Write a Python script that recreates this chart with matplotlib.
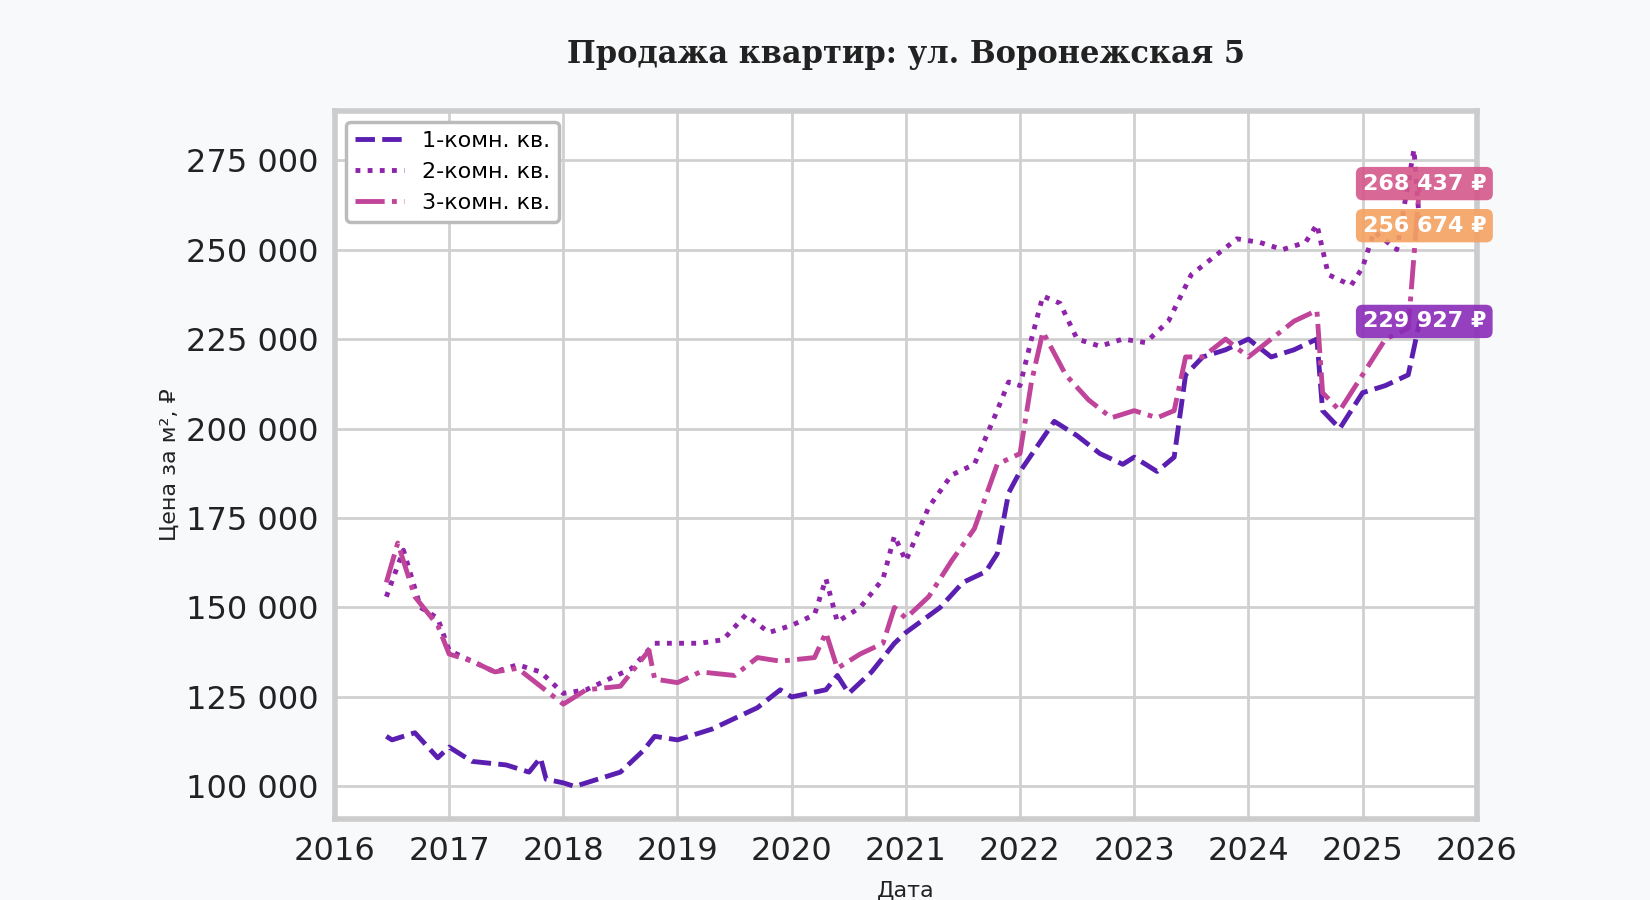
import matplotlib
matplotlib.use("Agg")
import matplotlib.pyplot as plt
from matplotlib.ticker import FuncFormatter

t1 = [2016.45,2016.5,2016.7,2016.9,2017.0,2017.2,2017.5,2017.7,2017.8,2017.85,2018.0,2018.1,2018.3,2018.5,2018.7,2018.8,2019.0,2019.3,2019.5,2019.7,2019.9,2020.0,2020.3,2020.4,2020.5,2020.7,2020.9,2021.0,2021.3,2021.5,2021.7,2021.8,2021.9,2022.0,2022.15,2022.3,2022.5,2022.7,2022.9,2023.0,2023.2,2023.35,2023.45,2023.6,2023.8,2024.0,2024.2,2024.4,2024.6,2024.65,2024.8,2024.9,2025.0,2025.2,2025.4,2025.5]
v1 = [114000,113000,115000,108000,111000,107000,106000,104000,108000,102000,101000,100000,102000,104000,110000,114000,113000,116000,119000,122000,127000,125000,127000,131000,126000,132000,140000,143000,150000,157000,160000,165000,182000,188000,195000,202000,198000,193000,190000,192000,188000,192000,215000,220000,222000,225000,220000,222000,225000,205000,200000,205000,210000,212000,215000,229927]

t2 = [2016.45,2016.6,2016.75,2016.9,2017.0,2017.2,2017.4,2017.6,2017.8,2018.0,2018.2,2018.4,2018.6,2018.8,2019.0,2019.2,2019.4,2019.6,2019.8,2020.0,2020.2,2020.3,2020.4,2020.6,2020.8,2020.9,2021.0,2021.2,2021.4,2021.6,2021.8,2021.9,2022.0,2022.1,2022.2,2022.35,2022.5,2022.7,2022.9,2023.1,2023.3,2023.5,2023.7,2023.9,2024.1,2024.3,2024.5,2024.6,2024.7,2024.9,2025.0,2025.1,2025.3,2025.45,2025.5]
v2 = [153000,166000,150000,147000,138000,135000,132000,134000,132000,126000,127000,130000,133000,140000,140000,140000,141000,148000,143000,145000,148000,158000,146000,150000,158000,170000,163000,178000,187000,190000,205000,213000,212000,225000,237000,235000,225000,223000,225000,224000,230000,243000,248000,253000,252000,250000,252000,257000,243000,240000,245000,255000,250000,278000,256674]

t3 = [2016.45,2016.55,2016.7,2016.9,2017.0,2017.2,2017.4,2017.6,2017.8,2018.0,2018.2,2018.5,2018.75,2018.8,2019.0,2019.2,2019.5,2019.7,2019.9,2020.2,2020.3,2020.4,2020.6,2020.8,2020.9,2021.0,2021.2,2021.4,2021.6,2021.8,2022.0,2022.1,2022.2,2022.4,2022.6,2022.8,2023.0,2023.2,2023.35,2023.45,2023.6,2023.8,2024.0,2024.2,2024.4,2024.6,2024.65,2024.8,2025.0,2025.2,2025.4,2025.5]
v3 = [157000,168000,153000,145000,137000,135000,132000,133000,128000,123000,127000,128000,138000,130000,129000,132000,131000,136000,135000,136000,143000,133000,137000,140000,150000,147000,153000,163000,172000,190000,193000,213000,227000,215000,208000,203000,205000,203000,205000,220000,220000,225000,220000,225000,230000,233000,210000,205000,215000,225000,228000,268437]

labels = ["1-комн. кв.", "2-комн. кв.", "3-комн. кв."]
end_vals = [268437, 256674, 229927]
end_colors = ["#d4578a", "#f4a261", "#8a2cb8"]

fig = plt.figure(figsize=(16.5, 9), dpi=100, facecolor="#f8f9fb")
ax = fig.add_axes([0.203, 0.09, 0.692, 0.787])
ax.set_facecolor("white")
c1, c2, c3 = "#5a1fb0", "#8e24aa", "#c0449a"
ax.plot(t1, v1, color=c1, lw=3.5, ls=(0, (4, 1.5)), label=labels[0])
ax.plot(t2, v2, color=c2, lw=3.5, ls=(0, (1, 1.5)), label=labels[1])
ax.plot(t3, v3, color=c3, lw=3.5, ls=(0, (6, 1.5, 1, 1.5)), label=labels[2])
ax.set_xlim(2016, 2026)
ax.set_ylim(90900, 288800)
ax.set_xticks(range(2016, 2027))
ax.set_yticks(range(100000, 275001, 25000))
ax.yaxis.set_major_formatter(FuncFormatter(lambda v, p: f"{int(v):,}".replace(",", " ")))
ax.tick_params(labelsize=23, length=0, pad=12, colors="#222222")
ax.grid(True, color="#d0d0d0", lw=2)
for s in ax.spines.values():
    s.set_color("#cccccc"); s.set_linewidth(4)
ax.set_title("Продажа квартир: ул. Воронежская 5", family="DejaVu Serif", weight="bold", fontsize=22, pad=34, color="#222222")
ax.set_ylabel("Цена за м², ₽", fontsize=16, color="#222222")
ax.set_xlabel("Дата", fontsize=16, color="#222222", labelpad=10)
leg = ax.legend(loc="upper left", fontsize=16, frameon=True, edgecolor="#bbbbbb", framealpha=1, handlelength=2.2)
leg.get_frame().set_linewidth(2.5)
for v, c in zip(end_vals, end_colors):
    ax.annotate(f"{v:,}".replace(",", " ") + " ₽", xy=(2025.0, v), xytext=(0, 0), textcoords="offset points",
                ha="left", va="center", fontsize=16, weight="bold", color="white",
                bbox=dict(boxstyle="round,pad=0.3", fc=c, ec="none", alpha=0.9))
fig.savefig("out.png", dpi=100, facecolor=fig.get_facecolor())
